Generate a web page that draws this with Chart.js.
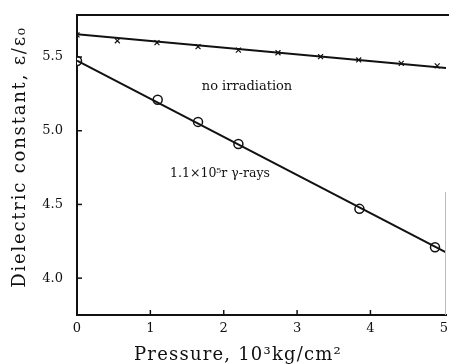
<!DOCTYPE html>
<html><head><meta charset="utf-8">
<script src="https://cdn.jsdelivr.net/npm/chart.js@4/dist/chart.umd.min.js"></script>
<style>html,body{margin:0;padding:0;background:#fff;overflow:hidden}#wrap{width:449px;height:364px;overflow:hidden}</style>
</head><body><div id="wrap"><canvas id="c" width="452" height="364"></canvas></div>
<script>
const pressureNoIrr = [0, 0.55, 1.09, 1.65, 2.2, 2.74, 3.32, 3.84, 4.42, 4.91];
const epsNoIrr = [5.65, 5.61, 5.597, 5.57, 5.547, 5.529, 5.502, 5.48, 5.457, 5.44];
const pressureIrr = [0, 1.1, 1.65, 2.2, 3.85, 4.88];
const epsIrr = [5.473, 5.21, 5.06, 4.91, 4.47, 4.21];
const fitX = [0, 5.03];
const fitNoIrr = [5.655, 5.425];
const fitIrr = [5.475, 4.175];
const xTicks = [0, 1, 2, 3, 4, 5];
const yTicks = [4.0, 4.5, 5.0, 5.5];
const labelNoIrr = "no irradiation";
const labelIrr = "1.1\u00d710\u2075r \u03b3-rays";
const xTitle = "Pressure, 10\u00b3kg/cm\u00b2";
const yTitle = "Dielectric constant, \u03b5/\u03b5\u2080";

const serif = "'DejaVu Serif', 'Liberation Serif', serif";
const pts = (xs, ys) => xs.map((x, i) => ({x, y: ys[i]}));

const deco = {
  id: 'deco',
  afterDraw(chart) {
    const {ctx, chartArea: a, scales: {x, y}} = chart;
    ctx.save();
    ctx.strokeStyle = '#111';
    ctx.lineWidth = 2;
    ctx.beginPath(); ctx.moveTo(a.left, a.top); ctx.lineTo(chart.width, a.top); ctx.stroke();
    ctx.strokeStyle = '#bbb'; ctx.lineWidth = 1;
    ctx.beginPath(); ctx.moveTo(a.right - 0.5, 192); ctx.lineTo(a.right - 0.5, a.bottom); ctx.stroke();
    ctx.strokeStyle = '#111'; ctx.lineWidth = 1.5;
    xTicks.forEach(v => { if (v === 0 || v === 5) return; const px = x.getPixelForValue(v);
      ctx.beginPath(); ctx.moveTo(px, a.bottom); ctx.lineTo(px, a.bottom - 5); ctx.stroke(); });
    yTicks.forEach(v => { const py = y.getPixelForValue(v);
      ctx.beginPath(); ctx.moveTo(a.left, py); ctx.lineTo(a.left + 5, py); ctx.stroke(); });
    ctx.fillStyle = '#111';
    ctx.textAlign = 'center'; ctx.textBaseline = 'middle';
    ctx.font = "13px " + serif;
    ctx.fillText(labelNoIrr, 247, 87);
    ctx.font = "12.5px " + serif;
    ctx.fillText(labelIrr, 220, 174);
    ctx.font = "18px " + serif;
    ctx.letterSpacing = '1.2px';
    ctx.fillText(xTitle, 238, 355);
    ctx.save();
    ctx.translate(20, 157); ctx.rotate(-Math.PI / 2);
    ctx.letterSpacing = '1.8px';
    ctx.fillText(yTitle, 0, 0);
    ctx.restore();
    ctx.restore();
  }
};

new Chart(document.getElementById('c'), {
  type: 'scatter',
  data: {
    datasets: [
      {data: pts(fitX, fitNoIrr), showLine: true, borderColor: '#111', borderWidth: 2, pointRadius: 0},
      {data: pts(fitX, fitIrr), showLine: true, borderColor: '#111', borderWidth: 2, pointRadius: 0},
      {data: pts(pressureNoIrr, epsNoIrr), showLine: false, pointStyle: 'crossRot', pointRadius: 3.5,
       borderColor: '#111', borderWidth: 1.2},
      {data: pts(pressureIrr, epsIrr), showLine: false, pointStyle: 'circle', pointRadius: 4.5,
       backgroundColor: '#fff', borderColor: '#111', borderWidth: 1.5}
    ]
  },
  options: {
    responsive: false, animation: false,
    layout: {padding: {top: 15, right: 0, left: 0, bottom: 0}},
    plugins: {legend: {display: false}, tooltip: {enabled: false}},
    scales: {
      x: {
        type: 'linear', min: 0, max: 5.03,
        afterBuildTicks: s => { s.ticks = xTicks.map(v => ({value: v})); },
        afterFit: s => { s.height = 49; s.paddingLeft = 0; s.paddingRight = 0; },
        grid: {display: false, drawTicks: false},
        border: {display: true, color: '#111', width: 2},
        ticks: {color: '#111', font: {family: serif, size: 13}, padding: 6, maxRotation: 0,
                callback: v => String(v)}
      },
      y: {
        type: 'linear', min: 3.75, max: 5.785,
        afterBuildTicks: s => { s.ticks = yTicks.map(v => ({value: v})); },
        afterFit: s => { s.width = 77; s.paddingTop = 0; s.paddingBottom = 0; },
        grid: {display: false, drawTicks: false},
        border: {display: true, color: '#111', width: 2},
        ticks: {color: '#111', font: {family: serif, size: 13}, padding: 14,
                callback: v => Number(v).toFixed(1)}
      }
    }
  },
  plugins: [deco]
});
</script></body></html>
